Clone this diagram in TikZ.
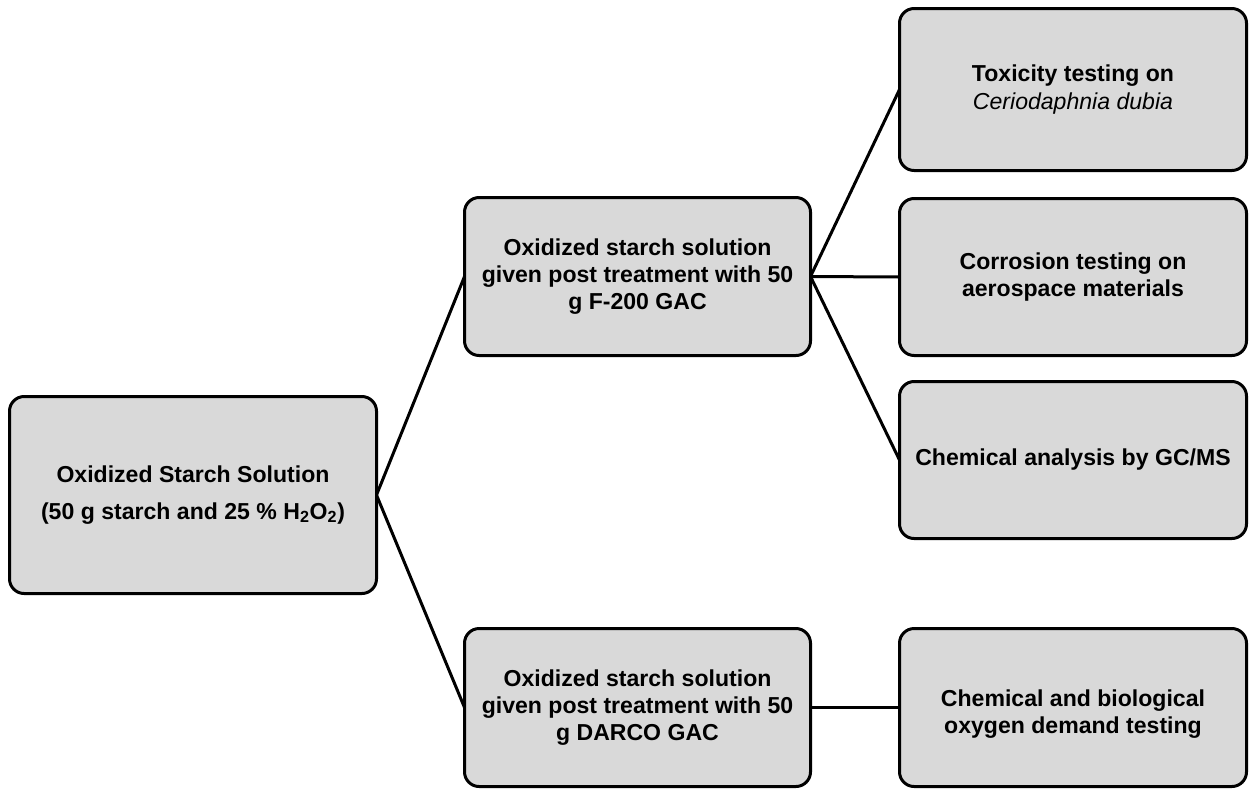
\documentclass[tikz,border=0pt]{standalone}
\usepackage{fontspec}
\setmainfont{Liberation Sans}
\definecolor{boxgray}{HTML}{D9D9D9}
\begin{document}
\begin{tikzpicture}[x=0.75pt,y=-0.75pt,inner sep=0pt,outer sep=0pt,line width=2.25pt,
stage/.style={draw,rectangle,rounded corners=11pt,fill=boxgray,align=center,line width=2.25pt,
  font=\bfseries\fontsize{17.3}{20.5}\selectfont},
srcbox/.style={stage,minimum width=275.25pt,minimum height=147.75pt},
gacbox/.style={stage,minimum width=259.5pt,minimum height=118.5pt},
testbox/.style={stage,minimum width=260.25pt,minimum height=118.5pt}]

\useasboundingbox (0,0) rectangle (1252,790);

\draw (193,495) node[srcbox] (start) {Oxidized Starch Solution\\[7pt](50 g starch and 25 \% H\textsubscript{2}O\textsubscript{2})};
\draw (637.5,276.5) node[gacbox] (f200) {Oxidized starch solution\\given post treatment with 50\\g F-200 GAC};
\draw (637.5,707.5) node[gacbox] (darco) {Oxidized starch solution\\given post treatment with 50\\g DARCO GAC};
\draw (1073,89.5) node[testbox,minimum height=121.5pt] (tox) {Toxicity testing on\\\textmd{\textit{Ceriodaphnia dubia}}};
\draw (1073,277) node[testbox,minimum height=117.75pt] (corr) {Corrosion testing on\\aerospace materials};
\draw (1073,460) node[testbox,minimum height=117.75pt] (gcms) {Chemical analysis by GC/MS};
\draw (1073,707.5) node[testbox] (cod) {\\[2pt]Chemical and biological\\oxygen demand testing};

\draw (start.east) -- (f200.west);
\draw (start.east) -- (darco.west);
\draw (f200.east) -- (tox.west);
\draw (f200.east) -- (corr.west);
\draw (f200.east) -- (gcms.west);
\draw (darco.east) -- (cod.west);
\end{tikzpicture}
\end{document}
